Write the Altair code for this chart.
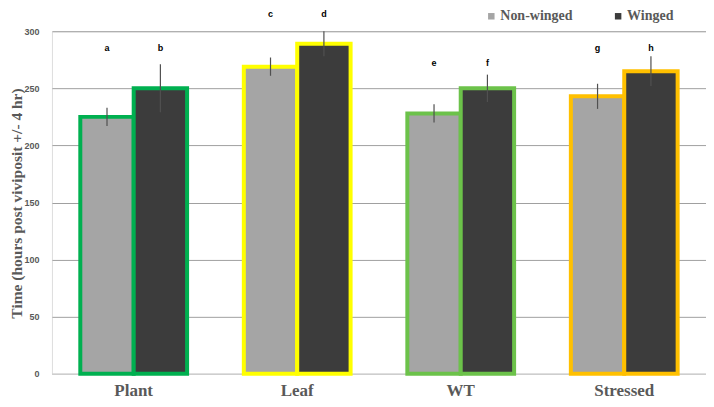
import altair as alt
import pandas as pd

categories = ["Plant", "Leaf", "WT", "Stressed"]
series = ["Non-winged", "Winged"]
non_winged = [225, 269, 228, 243]
winged = [250, 289, 250, 265]
err_non_winged = [8, 8, 8, 11]
err_winged = [21, 11, 12, 13]
letters_non_winged = ["a", "c", "e", "g"]
letters_winged = ["b", "d", "f", "h"]
letter_height = [285, 315, 272, 285]
border_colors = ["#00b050", "#ffff00", "#6cc24a", "#ffc000"]
fill_colors = ["#a5a5a5", "#3c3c3c"]

rows = []
for i, c in enumerate(categories):
    rows.append(dict(category=c, series=series[0], value=non_winged[i], err=err_non_winged[i],
                     letter=letters_non_winged[i], ly=letter_height[i]))
    rows.append(dict(category=c, series=series[1], value=winged[i], err=err_winged[i],
                     letter=letters_winged[i], ly=letter_height[i]))
df = pd.DataFrame(rows)
df["lo"] = df["value"] - df["err"]
df["hi"] = df["value"] + df["err"]

gray = "#595959"

x_enc = alt.X("category:N", sort=categories,
              scale=alt.Scale(paddingInner=0.347, paddingOuter=0.1735),
              axis=alt.Axis(title=None, labelAngle=0, labelFont="Liberation Serif",
                            labelFontWeight="bold", labelFontSize=17, labelColor=gray,
                            labelPadding=9, ticks=False, domainColor="#d9d9d9", domainWidth=1))
xoff = alt.XOffset("series:N", sort=series, scale=alt.Scale(domain=series, paddingInner=0, paddingOuter=0))

bars = alt.Chart(df).mark_bar(strokeWidth=4).encode(
    x=x_enc,
    xOffset=xoff,
    y=alt.Y("value:Q", scale=alt.Scale(domain=[0, 300], nice=False),
            axis=alt.Axis(title="Time (hours post viviposit +/- 4 hr)", values=[0, 50, 100, 150, 200, 250, 300],
                          titleFont="Liberation Serif", titleFontSize=15.5, titleFontWeight="bold",
                          titleColor=gray, titleX=-35, titleY=172, titleAngle=-90,
                          titleAlign="center", titleBaseline="middle",
                          labelFont="Liberation Sans", labelFontWeight="bold", labelFontSize=9,
                          labelColor=gray, labelPadding=13, ticks=False, domain=False,
                          gridColor="#a0a0a0", gridWidth=1)),
    fill=alt.Fill("series:N", sort=series, scale=alt.Scale(domain=series, range=fill_colors),
                  legend=alt.Legend(title=None, orient="none", direction="horizontal",
                                    legendX=433, legendY=-22, symbolType="square", symbolSize=42,
                                    symbolStrokeWidth=0, labelFont="Liberation Serif",
                                    labelFontWeight="bold", labelFontSize=14, labelColor=gray,
                                    labelOffset=2, columnPadding=38, padding=0)),
    stroke=alt.Stroke("category:N", sort=categories, scale=alt.Scale(domain=categories, range=border_colors),
                      legend=None),
)

errs = alt.Chart(df).mark_rule(color="#505050", strokeWidth=1.2).encode(
    x=alt.X("category:N", sort=categories),
    xOffset=alt.XOffset("series:N", sort=series),
    y="lo:Q",
    y2="hi:Q",
)

labels = alt.Chart(df).mark_text(font="Liberation Sans", fontWeight="bold", fontSize=9,
                                 color="#000000", baseline="middle").encode(
    x=alt.X("category:N", sort=categories),
    xOffset=alt.XOffset("series:N", sort=series),
    y="ly:Q",
    text="letter:N",
)

chart = alt.layer(bars, errs, labels).properties(
    width=655, height=343,
    autosize=alt.AutoSizeParams(type="none"),
    padding={"left": 44, "top": 23, "right": 0, "bottom": 30},
).configure_view(stroke=None).configure(background="white")

chart.save("out.html", embed_options={"renderer": "svg", "actions": False})
